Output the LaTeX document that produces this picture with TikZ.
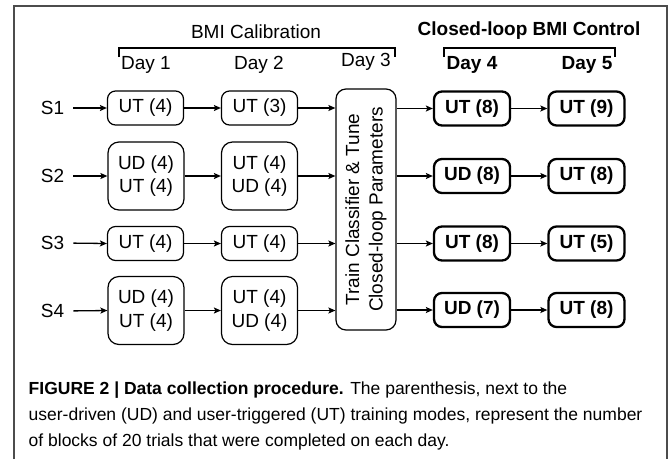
\documentclass[tikz,border=0pt]{standalone}
\usepackage{fontspec}
\setmainfont{Liberation Sans}
\usetikzlibrary{arrows.meta}
\begin{document}
\begin{tikzpicture}[x=1pt,y=-1pt,
  every node/.style={font=\fontsize{19}{23.5}\selectfont, inner sep=0pt},
  box/.style={draw, line width=1.2pt, rounded corners=8pt, minimum width=76pt, minimum height=34pt, align=center},
  tallbox/.style={box, minimum height=68pt, rounded corners=11pt},
  boldbox/.style={box, line width=2.3pt, font=\fontsize{19}{23.5}\selectfont\bfseries},
  arr/.style={line width=1.3pt, -{Stealth[length=7pt,width=6pt,inset=1.5pt]}},
  brk/.style={line width=1.3pt},
  captext/.style={anchor=base west, font=\fontsize{17.5}{21}\selectfont}
]
\useasboundingbox (0,0) rectangle (669,459);
\draw[line width=1.5pt, color=black!70] (14,459) -- (14,6) -- (667,6) -- (667,459);

% headings
\node (hcal) at (256,32) {BMI Calibration};
\node[font=\fontsize{19}{23.5}\selectfont\bfseries] (hctl) at (529,31) {Closed-loop BMI Control};
\draw[brk] (119,57) -- (119,48) -- (395,48) -- (395,57);
\draw[brk] (444,57) -- (444,48) -- (615,48) -- (615,57);
\node (day1) at (146,65) {Day 1};
\node (day2) at (259,65) {Day 2};
\node (day3) at (366,62) {Day 3};
\node[font=\fontsize{19}{23.5}\selectfont\bfseries] (day4) at (472,65) {Day 4};
\node[font=\fontsize{19}{23.5}\selectfont\bfseries] (day5) at (587,65) {Day 5};

% subjects
\node (s1) at (52.5,108) {S1};
\node (s2) at (52.5,176) {S2};
\node (s3) at (52.5,243) {S3};
\node (s4) at (52.5,311) {S4};

% day 1
\node[box] (a1) at (145.5,108) {UT (4)};
\node[tallbox] (a2) at (146,176) {UD (4)\\UT (4)};
\node[box] (a3) at (145.5,243.5) {UT (4)};
\node[tallbox] (a4) at (146,310.5) {UD (4)\\UT (4)};
% day 2
\node[box] (b1) at (259.5,108) {UT (3)};
\node[tallbox] (b2) at (259.5,176) {UT (4)\\UD (4)};
\node[box] (b3) at (259.5,243.5) {UT (4)};
\node[tallbox] (b4) at (259.5,310.5) {UT (4)\\UD (4)};
% day 3
\node[draw, line width=1.2pt, rounded corners=10pt, rotate=90, minimum width=241pt, minimum height=60pt, align=center] (tr) at (366,209.5) {Train Classifier \& Tune\\Closed-loop Parameters};
% day 4
\node[boldbox] (c1) at (472,108.5) {UT (8)};
\node[boldbox] (c2) at (472,176) {UD (8)};
\node[boldbox] (c3) at (472,243.5) {UT (8)};
\node[boldbox] (c4) at (472,310) {UD (7)};
% day 5
\node[boldbox] (e1) at (586.5,108.5) {UT (9)};
\node[boldbox] (e2) at (586.5,176) {UT (8)};
\node[boldbox] (e3) at (586.5,243.5) {UT (5)};
\node[boldbox] (e4) at (586.5,310) {UT (8)};

\foreach \i in {1,2,3,4}{
  \draw[arr, shorten <=9pt] (s\i.east) -- (a\i.west);
  \draw[arr] (a\i.east) -- (b\i.west);
  \draw[arr] (b\i.east) -- (b\i.east -| tr.north);
  \draw[arr] (c\i.west -| tr.south) -- (c\i.west);
  \draw[arr] (c\i.east) -- (e\i.west);
}

% caption
\node[captext] (cap1) at (28.5,394) {\textbf{FIGURE 2 | Data collection procedure.} The parenthesis, next to the};
\node[captext] (cap2) at (28.5,420.5) {user-driven (UD) and user-triggered (UT) training modes, represent the number};
\node[captext] (cap3) at (28.5,446.5) {of blocks of 20 trials that were completed on each day.};
\end{tikzpicture}
\end{document}
